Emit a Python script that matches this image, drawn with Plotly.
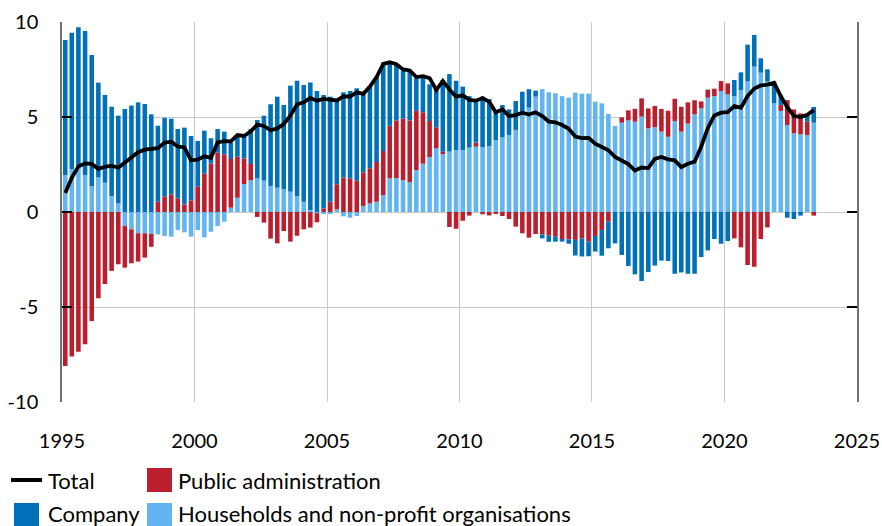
import pandas as pd
import plotly.graph_objects as go

# Quarterly periods 1995Q1 .. 2023Q2
quarters = [f"{y}Q{q}" for y in range(1995, 2024) for q in range(1, 5)][:114]

households = [
    1.95, 2.26, 2.39, 1.95, 1.37, 1.82, 1.54, 0.84, 0.46, -0.74,
    -0.91, -1.12, -1.12, -1.16, -1.18, -1.26, -1.30, -0.95, -1.07, -1.30,
    -0.95, -1.33, -1.04, -0.74, -0.51, 0.23, 0.75, 1.47, 1.67, 1.77,
    1.65, 1.37, 1.28, 1.21, 1.07, 0.84, 0.54, 0.10, -0.07, -0.10,
    -0.10, 0.14, -0.23, -0.30, -0.21, 0.32, 0.46, 0.54, 0.89, 1.77,
    1.79, 1.67, 1.58, 2.21, 2.54, 2.89, 3.35, 3.07, 3.18, 3.26,
    3.26, 3.39, 3.44, 3.42, 3.47, 3.79, 3.93, 4.05, 4.32, 5.28,
    5.49, 6.07, 6.47, 6.30, 6.25, 6.10, 6.02, 6.28, 6.23, 6.23,
    5.81, 5.72, 5.16, 4.53, 4.70, 4.82, 4.75, 5.02, 4.40, 4.47,
    4.23, 3.96, 4.79, 4.23, 4.65, 5.14, 5.46, 6.02, 6.10, 6.37,
    6.19, 6.10, 6.42, 6.89, 7.65, 7.33, 6.86, 5.72, 5.32, 4.58,
    4.14, 4.09, 4.05, 4.70,
]

public_admin = [
    -8.10, -7.60, -7.35, -6.96, -5.74, -4.54, -3.79, -3.10, -2.75, -2.19,
    -1.79, -1.49, -1.28, -0.67, 0.54, 0.82, 0.93, 0.72, 0.40, 0.61,
    1.33, 2.02, 2.56, 3.12, 3.04, 2.56, 2.16, 1.35, 0.86, -0.26,
    -0.56, -1.40, -1.65, -1.00, -1.56, -1.25, -0.91, -0.82, -0.47, 0.19,
    0.54, 1.32, 1.82, 1.77, 1.65, 1.77, 1.84, 2.09, 2.32, 2.77,
    3.03, 3.26, 3.24, 3.12, 2.71, 1.90, 1.11, 0.10, -0.79, -0.88,
    -0.46, -0.19, 0.21, -0.12, -0.18, -0.10, -0.21, -0.37, -0.77, -1.12,
    -1.35, -1.16, -1.18, -1.25, -1.30, -1.47, -1.44, -1.47, -1.39, -1.56,
    -1.26, -0.95, -0.51, 0.00, 0.28, 0.53, 0.68, 0.96, 1.05, 1.11,
    1.19, 1.37, 1.17, 1.31, 1.12, 0.74, 0.36, 0.42, 0.39, 0.52,
    0.58, -1.39, -1.86, -2.79, -2.88, -1.42, -0.81, 0.00, 0.32, 1.31,
    1.26, 1.10, 0.70, -0.19,
]

company = [
    7.10, 7.18, 7.33, 7.58, 6.89, 4.99, 4.62, 4.70, 4.61, 5.42,
    5.60, 5.77, 5.68, 5.14, 4.00, 4.14, 3.98, 3.65, 4.04, 3.39,
    2.41, 2.26, 1.32, 1.25, 1.19, 0.86, 1.05, 1.13, 1.84, 3.07,
    3.42, 4.30, 4.79, 4.42, 5.58, 6.07, 6.14, 6.71, 6.37, 5.97,
    5.53, 4.43, 4.48, 4.60, 4.86, 4.12, 4.33, 4.46, 4.65, 3.32,
    2.92, 2.49, 2.62, 1.71, 1.87, 1.93, 1.96, 3.78, 4.08, 3.65,
    3.34, 2.71, 2.19, 2.65, 2.48, 1.49, 1.70, 1.35, 1.52, 1.05,
    0.97, 0.32, -0.21, -0.32, -0.26, -0.09, -0.23, -0.82, -0.95, -0.77,
    -0.82, -1.35, -1.40, -1.65, -2.26, -2.84, -3.28, -3.63, -3.16, -2.82,
    -2.56, -2.58, -3.25, -3.18, -3.25, -3.25, -2.37, -2.02, -1.42, -1.67,
    -1.53, 0.85, 0.93, 1.92, 1.67, 0.76, 0.65, 1.14, 0.52, -0.30,
    -0.37, -0.19, 0.41, 0.83,
]

total = [
    1.00, 1.80, 2.40, 2.56, 2.53, 2.27, 2.38, 2.44, 2.33, 2.60,
    2.90, 3.15, 3.28, 3.32, 3.36, 3.65, 3.70, 3.45, 3.40, 2.72,
    2.76, 2.93, 2.85, 3.66, 3.73, 3.72, 4.05, 4.00, 4.25, 4.60,
    4.53, 4.30, 4.40, 4.63, 5.07, 5.67, 5.77, 6.00, 5.86, 5.95,
    5.90, 5.87, 6.08, 6.08, 6.30, 6.22, 6.60, 7.10, 7.80, 7.88,
    7.78, 7.50, 7.45, 7.10, 7.15, 7.05, 6.42, 6.90, 6.45, 6.07,
    6.14, 5.90, 5.86, 6.00, 5.80, 5.25, 5.40, 5.05, 5.10, 5.23,
    5.13, 5.25, 5.05, 4.76, 4.72, 4.58, 4.38, 3.97, 3.89, 3.90,
    3.60, 3.43, 3.25, 2.90, 2.71, 2.52, 2.18, 2.34, 2.31, 2.80,
    2.90, 2.77, 2.72, 2.36, 2.54, 2.65, 3.45, 4.41, 5.08, 5.23,
    5.26, 5.58, 5.49, 6.10, 6.50, 6.66, 6.70, 6.80, 6.10, 5.52,
    5.05, 5.00, 5.12, 5.36,
]

y_ticks = [-10, -5, 0, 5, 10]
x_tick_years = [1995, 2000, 2005, 2010, 2015, 2020, 2025]

# mid-quarter dates for the quarterly categories
x_dates = [(pd.Period(q, freq="Q").start_time + pd.Timedelta(days=45)).strftime("%Y-%m-%d") for q in quarters]

C_COMPANY = "#0070b8"
C_PUBLIC = "#bb1e2d"
C_HOUSE = "#63b5f2"
FONT = "Lato, Carlito, 'Liberation Sans', sans-serif"

fig = go.Figure()
fig.add_trace(go.Bar(x=x_dates, y=households, name="Households and non-profit organisations",
                     marker=dict(color=C_HOUSE, line=dict(width=0))))
fig.add_trace(go.Bar(x=x_dates, y=public_admin, name="Public administration",
                     marker=dict(color=C_PUBLIC, line=dict(width=0))))
fig.add_trace(go.Bar(x=x_dates, y=company, name="Company",
                     marker=dict(color=C_COMPANY, line=dict(width=0))))
fig.add_trace(go.Scatter(x=x_dates, y=total, name="Total", mode="lines",
                         line=dict(color="black", width=3.8)))

fig.update_layout(
    width=882, height=526,
    margin=dict(l=62, r=25, t=22, b=124, autoexpand=False),
    barmode="relative", bargap=0.3,
    plot_bgcolor="white", paper_bgcolor="white",
    showlegend=False,
    font=dict(family=FONT, size=20, color="black"),
)
fig.update_xaxes(
    type="date", automargin=False,
    range=["1995-01-01", "2025-01-01"],
    tickvals=[f"{y}-01-01" for y in x_tick_years],
    ticktext=[str(y) for y in x_tick_years],
    showgrid=True, gridcolor="#c8c8c8", gridwidth=1,
    showline=False, zeroline=False, ticks="",
    ticklabelstandoff=25,
)
fig.update_yaxes(
    automargin=False,
    range=[-10, 10],
    tickvals=y_ticks, ticktext=[str(v) for v in y_ticks],
    showgrid=True, gridcolor="#c8c8c8", gridwidth=1,
    zeroline=False,
    showline=True, linecolor="#707070", linewidth=1.5, mirror="ticks",
    ticks="inside", ticklen=10, tickcolor="black", tickwidth=1.5,
    ticklabelstandoff=18,
)

# custom legend (2 rows, 2 columns)
def px_x(p):
    return (p - 62) / 795

def px_y(p):
    return (402 - p) / 380

shapes = [
    dict(type="line", xref="paper", yref="paper", x0=px_x(11), x1=px_x(42), y0=px_y(480), y1=px_y(480),
         line=dict(color="black", width=4)),
    dict(type="rect", xref="paper", yref="paper", x0=px_x(147), x1=px_x(172), y0=px_y(468), y1=px_y(492),
         fillcolor=C_PUBLIC, line=dict(width=0)),
    dict(type="rect", xref="paper", yref="paper", x0=px_x(14), x1=px_x(39), y0=px_y(503), y1=px_y(527),
         fillcolor=C_COMPANY, line=dict(width=0)),
    dict(type="rect", xref="paper", yref="paper", x0=px_x(147), x1=px_x(172), y0=px_y(503), y1=px_y(527),
         fillcolor=C_HOUSE, line=dict(width=0)),
]
labels = [("Total", 46, 480), ("Public administration", 176, 480),
          ("Company", 46, 513), ("Households and non-profit organisations", 176, 513)]
annotations = [dict(text=t, xref="paper", yref="paper", x=px_x(x), y=px_y(y), xanchor="left", yanchor="middle",
                    showarrow=False, font=dict(size=22, color="black")) for t, x, y in labels]
fig.update_layout(shapes=shapes, annotations=annotations)

fig.write_html("out.html", config={"displayModeBar": False},
               post_script="document.body.style.margin='0';document.body.style.overflow='hidden';")
